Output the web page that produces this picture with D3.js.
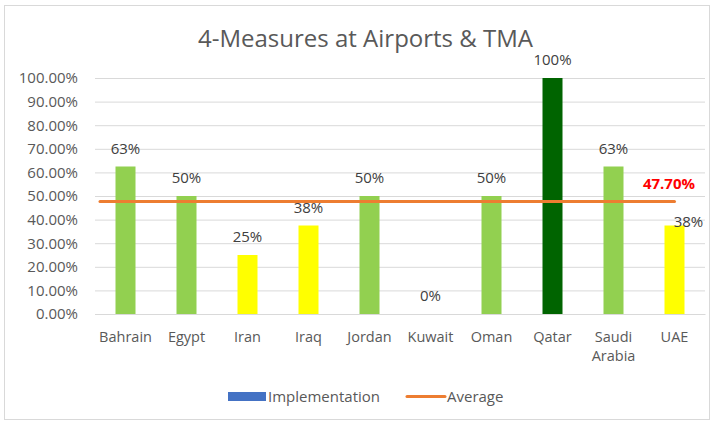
<!DOCTYPE html>
<html>
<head>
<meta charset="utf-8">
<script src="https://cdn.jsdelivr.net/npm/d3@7"></script>
<style>
  body { margin: 0; background: #fff; }
  svg { font-family: "Open Sans", sans-serif; }
</style>
</head>
<body>
<script>
const categories = ['Bahrain', 'Egypt', 'Iran', 'Iraq', 'Jordan', 'Kuwait', 'Oman', 'Qatar', 'Saudi Arabia', 'UAE']
const implementation = [0.625, 0.5, 0.25, 0.375, 0.5, 0, 0.5, 1, 0.625, 0.375]
const barLabels = ['63%', '50%', '25%', '38%', '50%', '0%', '50%', '100%', '63%', '38%']
const barColors = ['#92D050', '#92D050', '#FFFF00', '#FFFF00', '#92D050', '#92D050', '#92D050', '#006400', '#92D050', '#FFFF00']
const average = 0.477
const averageLabel = '47.70%'
const yTicks = [0, 0.1, 0.2, 0.3, 0.4, 0.5, 0.6, 0.7, 0.8, 0.9, 1]

const w = 714
const h = 423
const font = '"Open Sans", sans-serif'

const svg = d3.select('body')
  .append('svg')
  .attr('width', w)
  .attr('height', h)

// chart border
svg.append('rect')
  .attr('x', 4.5)
  .attr('y', 5.5)
  .attr('width', 705)
  .attr('height', 414)
  .attr('fill', '#fff')
  .attr('stroke', '#d9d9d9')

svg.append('text')
  .attr('x', 365.5)
  .attr('y', 47)
  .attr('text-anchor', 'middle')
  .attr('font-size', 24)
  .attr('fill', '#595959')
  .text('4-Measures at Airports & TMA')

const xScale = d3.scaleBand()
  .domain(categories)
  .range([95, 705])

const yScale = d3.scaleLinear()
  .domain([0, 1])
  .range([314, 78])

// gridlines + y labels
const yAxis = d3.axisLeft(yScale)
  .tickValues(yTicks)
  .tickSize(-(705 - 95))
  .tickPadding(17)
  .tickFormat(d => (d * 100).toFixed(2) + '%')

const gy = svg.append('g')
  .attr('transform', 'translate(95,0)')
  .call(yAxis)
gy.select('.domain').remove()
gy.selectAll('.tick line').attr('stroke', '#d9d9d9').attr('x1', 0)
gy.selectAll('.tick text')
  .attr('font-size', 15)
  .attr('fill', '#595959')
  .attr('font-family', font)

const barW = 20
const data = categories.map((c, i) => ({ c, v: implementation[i], label: barLabels[i], color: barColors[i] }))

svg.selectAll('rect.bar')
  .data(data)
  .enter()
  .append('rect')
  .attr('class', 'bar')
  .attr('x', d => xScale(d.c) + xScale.bandwidth() / 2 - barW / 2)
  .attr('y', d => yScale(d.v))
  .attr('width', barW)
  .attr('height', d => yScale(0) - yScale(d.v))
  .attr('fill', d => d.color)

// x axis
const xAxis = d3.axisBottom(xScale).tickSize(0).tickPadding(0)
const gx = svg.append('g')
  .attr('transform', `translate(0, ${yScale(0)})`)
  .call(xAxis)
gx.select('.domain').attr('stroke', '#d9d9d9')
gx.selectAll('.tick text')
  .attr('font-size', 14.5)
  .attr('fill', '#595959')
  .attr('font-family', font)
  .attr('dy', null)
  .attr('y', 28)
  .each(function (d) {
    const words = d.split(' ')
    if (words.length > 1) {
      const t = d3.select(this)
      t.text(null)
      words.forEach((wd, i) => {
        t.append('tspan')
          .attr('x', 0)
          .attr('dy', i === 0 ? 0 : 18.5)
          .text(wd)
      })
    }
  })

// data labels (last one nudged aside, as in the original, to clear the average label)
const lastIdx = data.length - 1
svg.selectAll('text.lbl')
  .data(data)
  .enter()
  .append('text')
  .attr('class', 'lbl')
  .attr('x', (d, i) => xScale(d.c) + xScale.bandwidth() / 2 + (i === lastIdx ? 14 : 0))
  .attr('y', (d, i) => yScale(d.v) - (i === lastIdx ? -1 : 13))
  .attr('text-anchor', 'middle')
  .attr('font-size', 15)
  .attr('fill', '#404040')
  .text(d => d.label)

// average line
const first = xScale(categories[0]) + 5
const last = xScale(categories[categories.length - 1]) + xScale.bandwidth() / 2
svg.append('line')
  .attr('x1', first)
  .attr('x2', last)
  .attr('y1', yScale(average))
  .attr('y2', yScale(average))
  .attr('stroke', '#ED7D31')
  .attr('stroke-width', 3)
  .attr('stroke-linecap', 'round')

svg.append('text')
  .attr('x', 669)
  .attr('y', yScale(average) - 12)
  .attr('text-anchor', 'middle')
  .attr('font-size', 15)
  .attr('font-weight', 'bold')
  .attr('fill', '#FF0000')
  .text(averageLabel)

// legend
const lg = svg.append('g')
lg.append('rect')
  .attr('x', 228).attr('y', 392)
  .attr('width', 38).attr('height', 9)
  .attr('fill', '#4472C4')
lg.append('text')
  .attr('x', 268).attr('y', 402)
  .attr('font-size', 15).attr('fill', '#595959')
  .text('Implementation')
lg.append('line')
  .attr('x1', 407).attr('x2', 445)
  .attr('y1', 396.5).attr('y2', 396.5)
  .attr('stroke', '#ED7D31').attr('stroke-width', 3)
  .attr('stroke-linecap', 'round')
lg.append('text')
  .attr('x', 447).attr('y', 402)
  .attr('font-size', 15).attr('fill', '#595959')
  .text('Average')
</script>
</body>
</html>
